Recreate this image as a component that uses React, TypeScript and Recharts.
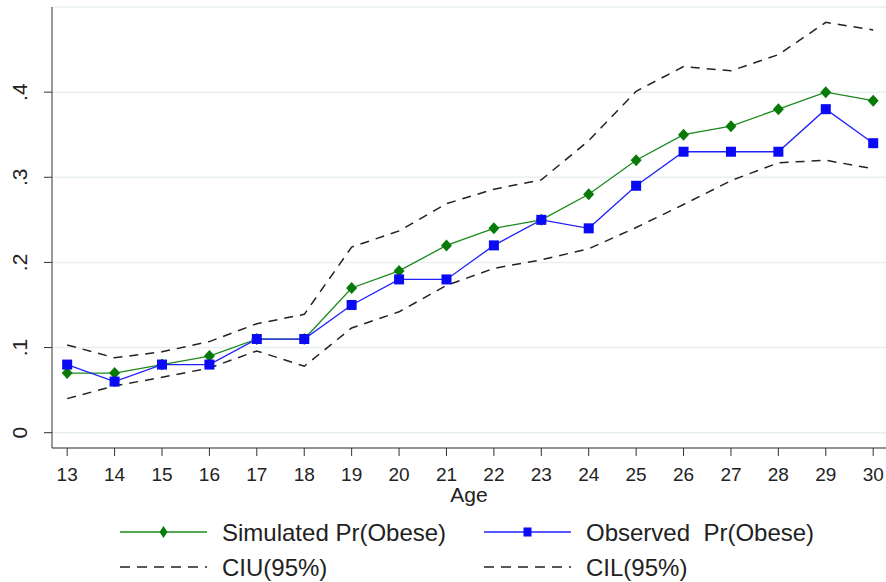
import { LineChart, Line, XAxis, YAxis, CartesianGrid, Legend } from 'recharts';

const ages = [13, 14, 15, 16, 17, 18, 19, 20, 21, 22, 23, 24, 25, 26, 27, 28, 29, 30];
const simulated = [0.07, 0.07, 0.08, 0.09, 0.11, 0.11, 0.17, 0.19, 0.22, 0.24, 0.25, 0.28, 0.32, 0.35, 0.36, 0.38, 0.40, 0.39];
const observed = [0.08, 0.06, 0.08, 0.08, 0.11, 0.11, 0.15, 0.18, 0.18, 0.22, 0.25, 0.24, 0.29, 0.33, 0.33, 0.33, 0.38, 0.34];
const ciUpper = [0.103, 0.088, 0.095, 0.107, 0.128, 0.139, 0.218, 0.237, 0.269, 0.286, 0.297, 0.343, 0.401, 0.43, 0.425, 0.444, 0.482, 0.473];
const ciLower = [0.04, 0.055, 0.065, 0.076, 0.096, 0.078, 0.123, 0.142, 0.173, 0.193, 0.203, 0.216, 0.241, 0.268, 0.296, 0.317, 0.32, 0.31];
const yTicks = [0, 0.1, 0.2, 0.3, 0.4];
const yTickLabels = ['0', '.1', '.2', '.3', '.4'];

const data = ages.map((age, i) => ({
    age,
    sim: simulated[i],
    obs: observed[i],
    ciu: ciUpper[i],
    cil: ciLower[i],
}));

const FONT = "'Liberation Sans', Arial, sans-serif";

const Diamond = (props: any) => {
    const { cx, cy } = props;
    if (cx == null || cy == null) return null;
    return <path d={`M${cx},${cy - 6} L${cx + 5.5},${cy} L${cx},${cy + 6} L${cx - 5.5},${cy} Z`} fill="#087a08" />;
};

const Square = (props: any) => {
    const { cx, cy } = props;
    if (cx == null || cy == null) return null;
    return <rect x={cx - 5} y={cy - 5} width={10} height={10} fill="#0a0af5" />;
};

const YTick = (props: any) => {
    const { x, y, payload } = props;
    const label = yTickLabels[yTicks.indexOf(payload.value)] ?? String(payload.value);
    return (
        <text
            x={x - 22}
            y={y}
            transform={`rotate(-90 ${x - 22} ${y})`}
            textAnchor="middle"
            dominantBaseline="central"
            fontSize={21}
            fill="#222"
            fontFamily={FONT}
        >
            {label}
        </text>
    );
};

const legendItems = [
    { label: 'Simulated Pr(Obese)', color: '#1a8a1a', dash: undefined, marker: 'diamond' },
    { label: 'Observed  Pr(Obese)', color: '#2020ff', dash: undefined, marker: 'square' },
    { label: 'CIU(95%)', color: '#222', dash: '10 7', marker: null },
    { label: 'CIL(95%)', color: '#222', dash: '10 7', marker: null },
];

// legend row / column placement
const LegendBox = () => (
    <svg width={886} height={74} style={{ display: 'block' }}>
        {legendItems.map((item, i) => {
            const col = i % 2;
            const row = Math.floor(i / 2);
            const x0 = col === 0 ? 120 : 484;
            const y = row === 0 ? 24 : 59;
            const mid = x0 + 43.5;
            return (
                <g key={item.label}>
                    <line x1={x0} x2={x0 + 87} y1={y} y2={y} stroke={item.color} strokeWidth={1.6} strokeDasharray={item.dash} />
                    {item.marker === 'diamond' && (
                        <path d={`M${mid},${y - 6} L${mid + 4},${y} L${mid},${y + 6} L${mid - 4},${y} Z`} fill="#087a08" />
                    )}
                    {item.marker === 'square' && <rect x={mid - 4} y={y - 4.5} width={8} height={9} fill="#0a0af5" />}
                    <text
                        x={x0 + 102}
                        y={y}
                        dominantBaseline="central"
                        fontSize={24}
                        fill="#222"
                        fontFamily={FONT}
                        style={{ whiteSpace: 'pre' }}
                    >
                        {item.label}
                    </text>
                </g>
            );
        })}
    </svg>
);

export default function App() {
    return (
        <div style={{ position: 'fixed', left: 0, top: 0, width: 886, height: 582, background: '#fff' }}>
            <LineChart width={886} height={582} data={data} margin={{ top: 7, right: 0, left: 0, bottom: 0 }}>
                <CartesianGrid vertical={false} stroke="#e8eff1" strokeWidth={1.5} />
                <XAxis
                    dataKey="age"
                    type="number"
                    domain={[12.68, 30.27]}
                    ticks={ages}
                    allowDataOverflow
                    height={60}
                    tickSize={8}
                    stroke="#333"
                    tick={{ fontSize: 19, fill: '#222', fontFamily: FONT }}
                    tickMargin={12}
                    label={{ value: 'Age', position: 'insideBottom', offset: 6, fontSize: 21, fill: '#222', fontFamily: FONT }}
                />
                <YAxis
                    type="number"
                    domain={[-0.018, 0.5]}
                    ticks={yTicks}
                    allowDataOverflow
                    width={52}
                    tickSize={8}
                    stroke="#333"
                    tick={<YTick />}
                />
                <Legend verticalAlign="bottom" wrapperStyle={{ height: 74, left: 0, width: 886 }} content={<LegendBox />} />
                <Line dataKey="ciu" stroke="#222" strokeWidth={1.5} strokeDasharray="9 7" dot={false} isAnimationActive={false} />
                <Line dataKey="cil" stroke="#222" strokeWidth={1.5} strokeDasharray="9 7" dot={false} isAnimationActive={false} />
                <Line dataKey="sim" stroke="#1a8a1a" strokeWidth={1.3} dot={<Diamond />} isAnimationActive={false} />
                <Line dataKey="obs" stroke="#2020ff" strokeWidth={1.3} dot={<Square />} isAnimationActive={false} />
            </LineChart>
        </div>
    );
}
